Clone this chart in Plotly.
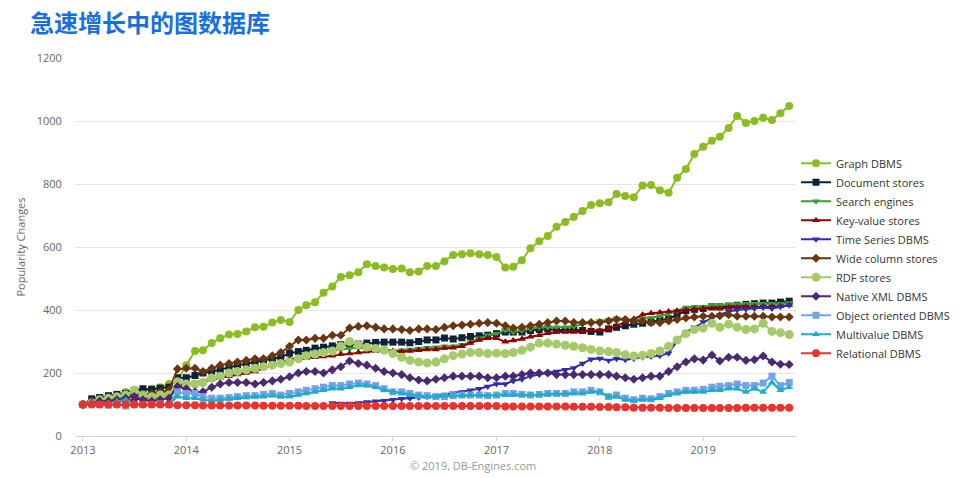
import pandas as pd
import plotly.graph_objects as go

months = pd.date_range("2013-01-01", periods=83, freq="MS")

graph_dbms = [100, 108, 115, 122, 130, 140, 135, 140, 150, 155, 165, 175,
              225, 270, 272, 295, 310, 322, 324, 332, 345, 347, 360, 368,
              362, 400, 415, 425, 455, 475, 505, 510, 520, 545, 540, 535,
              530, 532, 520, 522, 540, 540, 555, 575, 577, 580, 577, 575,
              568, 535, 537, 558, 596, 618, 635, 664, 679, 695, 714, 733,
              739, 742, 768, 762, 758, 795, 797, 780, 772, 820, 848, 895,
              918, 937, 950, 978, 1016, 994, 1000, 1010, 1003, 1025, 1048]
document_stores = [100, 118, 122, 128, 132, 135, 145, 150, 148, 152, 155, 185,
                   185, 192, 200, 205, 210, 218, 225, 230, 235, 240, 245, 250,
                   263, 268, 272, 279, 282, 286, 290, 290, 292, 295, 297, 298,
                   298, 298, 296, 300, 305, 305, 311, 308, 312, 316, 318, 320,
                   325, 330, 330, 330, 335, 338, 340, 336, 338, 338, 335, 332,
                   330, 340, 345, 350, 355, 358, 362, 368, 372, 385, 398, 402,
                   405, 410, 410, 412, 415, 418, 420, 422, 422, 425, 428]
search_engines = [100, 105, 112, 115, 120, 125, 130, 135, 130, 135, 140, 165,
                  165, 170, 175, 185, 190, 195, 200, 205, 210, 220, 225, 235,
                  240, 248, 255, 262, 268, 272, 275, 278, 280, 278, 275, 272,
                  270, 272, 275, 278, 280, 282, 285, 285, 290, 298, 310, 320,
                  325, 336, 330, 335, 340, 345, 345, 345, 345, 348, 355, 360,
                  365, 368, 374, 370, 368, 372, 375, 380, 388, 398, 408, 410,
                  410, 415, 415, 418, 418, 420, 420, 420, 420, 420, 422]
key_value = [100, 105, 108, 110, 110, 112, 115, 120, 120, 125, 130, 160,
             165, 165, 170, 180, 185, 190, 195, 200, 205, 215, 225, 230,
             245, 245, 248, 250, 252, 255, 260, 262, 265, 268, 270, 273,
             270, 268, 270, 272, 275, 275, 279, 280, 285, 295, 305, 310,
             310, 299, 303, 308, 315, 320, 326, 330, 330, 330, 330, 335,
             335, 340, 350, 360, 372, 385, 390, 392, 395, 398, 400, 402,
             405, 405, 405, 408, 408, 410, 410, 410, 410, 412, 415]
time_series = [None] * 29 + [105, 103, 103, 105, 108, 110, 112,
                             115, 118, 120, 122, 125, 128, 132, 136, 140, 145, 150, 157,
                             165, 165, 175, 180, 190, 195, 200, 205, 210, 216, 230, 244,
                             246, 240, 245, 242, 245, 250, 252, 255, 263, 302, 330, 345,
                             362, 375, 385, 395, 400, 402, 405, 408, 405, 410, 415]
wide_column = [100, 110, 115, 120, 125, 125, 130, 130, 135, 140, 145, 213,
               215, 215, 205, 215, 225, 230, 235, 240, 245, 245, 255, 265,
               285, 305, 305, 310, 310, 320, 320, 343, 348, 350, 345, 340,
               340, 338, 335, 340, 340, 338, 345, 350, 352, 355, 358, 360,
               358, 350, 343, 345, 350, 355, 360, 365, 365, 360, 360, 360,
               360, 365, 370, 370, 365, 365, 360, 360, 365, 370, 375, 378,
               380, 380, 382, 385, 380, 380, 380, 380, 378, 378, 378]
rdf_stores = [100, 105, 115, 120, 125, 130, 145, 130, 125, 130, 130, 172,
              165, 165, 170, 184, 190, 200, 205, 210, 215, 220, 225, 230,
              235, 245, 255, 260, 265, 270, 285, 300, 290, 282, 278, 272,
              262, 250, 240, 235, 232, 235, 245, 255, 260, 265, 265, 262,
              263, 262, 265, 272, 282, 295, 295, 292, 288, 285, 280, 275,
              270, 268, 265, 258, 254, 256, 262, 270, 285, 305, 325, 338,
              343, 358, 345, 355, 345, 338, 340, 358, 332, 328, 322]
native_xml = [100, 105, 110, 110, 115, 120, 125, 115, 110, 115, 120, 157,
              150, 140, 140, 155, 165, 170, 170, 170, 165, 170, 175, 180,
              188, 200, 205, 205, 200, 210, 220, 238, 230, 225, 215, 205,
              200, 195, 185, 178, 175, 180, 185, 190, 190, 190, 190, 185,
              185, 190, 190, 195, 200, 200, 200, 195, 195, 195, 195, 195,
              195, 195, 190, 185, 180, 185, 190, 190, 205, 220, 235, 245,
              241, 257, 238, 250, 250, 240, 242, 254, 235, 228, 227]
object_oriented = [100, 102, 100, 98, 100, 95, 100, 100, 100, 102, 100, 140,
                   135, 135, 125, 120, 120, 122, 125, 128, 128, 132, 135, 130,
                   135, 140, 145, 150, 155, 160, 160, 165, 168, 165, 160, 150,
                   140, 140, 135, 130, 128, 125, 125, 128, 130, 130, 130, 128,
                   130, 135, 135, 132, 130, 132, 135, 135, 135, 140, 140, 145,
                   140, 125, 130, 120, 115, 120, 118, 125, 135, 140, 145, 145,
                   148, 155, 158, 160, 165, 160, 160, 168, 190, 160, 170]
multivalue = [100, 100, 100, 105, 110, 115, 105, 100, 100, 100, 100, 125,
              120, 120, 115, 112, 115, 118, 120, 122, 125, 125, 128, 125,
              125, 130, 135, 140, 145, 150, 150, 155, 160, 160, 155, 145,
              140, 135, 130, 128, 125, 125, 128, 128, 128, 130, 130, 128,
              128, 130, 130, 130, 130, 130, 132, 133, 133, 135, 135, 140,
              140, 125, 125, 115, 112, 115, 115, 120, 130, 135, 140, 140,
              140, 145, 145, 150, 150, 140, 150, 140, 170, 145, 155]
relational = [100, 100, 100, 100, 100, 100, 100, 100, 100, 100, 100, 98,
              98, 98, 97, 97, 97, 97, 97, 97, 97, 96, 96, 96,
              96, 96, 95, 95, 95, 95, 95, 95, 95, 95, 95, 95,
              95, 95, 95, 95, 95, 95, 95, 95, 95, 95, 95, 95,
              95, 94, 94, 94, 94, 94, 94, 94, 94, 93, 93, 93,
              92, 92, 91, 91, 90, 90, 90, 90, 89, 89, 89, 89,
              89, 89, 89, 89, 89, 90, 90, 90, 90, 90, 90]

series_names = ["Graph DBMS", "Document stores", "Search engines", "Key-value stores",
                "Time Series DBMS", "Wide column stores", "RDF stores", "Native XML DBMS",
                "Object oriented DBMS", "Multivalue DBMS", "Relational DBMS"]
series_values = [graph_dbms, document_stores, search_engines, key_value, time_series,
                 wide_column, rdf_stores, native_xml, object_oriented, multivalue, relational]
colors = ["#8bbc21", "#0d233a", "#3c9e34", "#910000", "#2f2fae", "#6b3510",
          "#a6c96a", "#492970", "#77a1e5", "#1aadce", "#e8332e"]
symbols = ["circle", "square", "triangle-down", "triangle-up", "triangle-down", "diamond",
           "circle", "diamond", "square", "triangle-up", "circle"]
sizes = [8, 7, 7, 7, 7, 7, 9, 7, 7, 7, 8]

fig = go.Figure()
for name, vals, c, s, sz in zip(series_names, series_values, colors, symbols, sizes):
    assert len(vals) == 83, name
    fig.add_trace(go.Scatter(x=months, y=vals, name=name, mode="lines+markers",
                             line=dict(color=c, width=2),
                             marker=dict(color=c, symbol=s, size=sz)))

# page body has an 8px margin, so the figure is sized/offset to compensate
fig.update_layout(
    width=952, height=470,
    paper_bgcolor="white", plot_bgcolor="white",
    margin=dict(l=67, r=164, t=50, b=42, autoexpand=False),
    font=dict(family="Open Sans, DejaVu Sans, sans-serif", size=11, color="#666666"),
    title=dict(text="<b>急速增长中的图数据库</b>", x=0.0231, xanchor="left", y=0.966, yanchor="middle",
               font=dict(family="Noto Sans CJK SC", size=24, color="#1a6fe0")),
    legend=dict(x=1.0, xanchor="left", y=0.76, yanchor="top",
                font=dict(size=11, color="#333333"), bgcolor="rgba(0,0,0,0)"),
    showlegend=True,
)
fig.update_xaxes(range=["2012-12-04", "2019-11-25"], dtick="M12", tickformat="%Y",
                 showgrid=False, showline=True, linecolor="#ccd6eb", linewidth=1,
                 ticks="outside", ticklen=4, tickcolor="#ccd6eb", zeroline=False)
fig.update_yaxes(range=[0, 1200], dtick=200, showgrid=True, gridcolor="#e6e6e6",
                 gridwidth=1, zeroline=False, showline=False, ticks="outside",
                 ticklen=10, tickcolor="rgba(0,0,0,0)",
                 title=dict(text="Popularity Changes", standoff=8, font=dict(size=11, color="#666666")))
fig.add_annotation(text="© 2019, DB-Engines.com", xref="paper", yref="paper",
                   x=0.552, y=-0.077, xanchor="center", yanchor="middle",
                   showarrow=False, font=dict(size=11, color="#999999"))

fig.write_html("out.html")
